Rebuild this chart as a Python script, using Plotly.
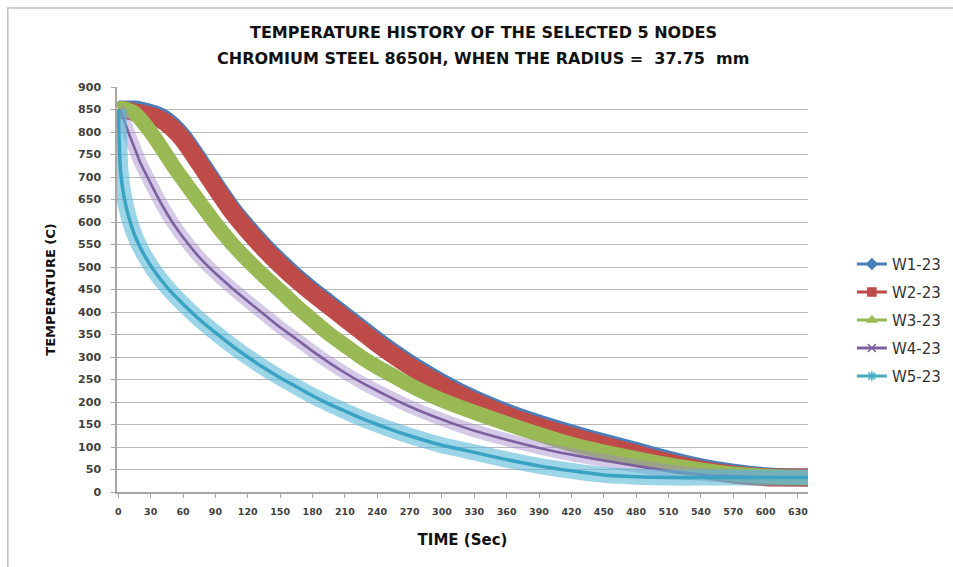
import plotly.graph_objects as go

# Sample times (s) and node temperatures (C) for the five selected nodes
TIME = [0, 2, 5, 10, 15, 20, 30, 40, 50, 60, 75, 90, 105, 120, 135, 150, 165, 180,
        195, 210, 225, 240, 255, 270, 285, 300, 315, 330, 360, 390, 420, 450, 480,
        510, 540, 570, 600, 620, 640]

W1_23 = [850, 850, 850, 850, 850, 848, 842, 833, 815, 789, 737, 683, 631, 587, 547, 511,
         478, 448, 420, 392, 364, 336, 310, 286, 264, 243, 224, 207, 177, 152, 130, 110,
         91, 72, 55, 43, 35, 33, 32]
W2_23 = [850, 849, 848, 847, 844, 842, 836, 827, 809, 783, 731, 677, 625, 581, 541, 505,
         472, 442, 414, 386, 358, 330, 304, 280, 258, 237, 218, 201, 171, 146, 124, 104,
         85, 66, 50, 39, 33, 32, 32]
W3_23 = [850, 852, 852, 848, 842, 830, 800, 765, 728, 694, 645, 597, 553, 515, 480, 447,
         413, 382, 352, 326, 300, 278, 258, 238, 220, 204, 190, 177, 152, 128, 106, 89,
         74, 60, 49, 40, 35, 33, 32]
W4_23 = [850, 845, 828, 795, 765, 734, 686, 640, 600, 566, 522, 486, 454, 424, 395, 366,
         340, 313, 288, 265, 244, 225, 207, 190, 175, 161, 148, 136, 116, 98, 83, 70,
         58, 47, 39, 35, 33, 32, 32]
W5_23 = [850, 715, 660, 608, 572, 545, 503, 470, 442, 418, 384, 354, 326, 300, 276, 254,
         234, 214, 196, 180, 164, 150, 137, 125, 114, 104, 96, 88, 72, 58, 47, 38,
         34, 32, 32, 32, 32, 32, 32]

X_TICKS = list(range(0, 631, 30))
Y_TICKS = list(range(0, 901, 50))

NAMES = ["W1-23", "W2-23", "W3-23", "W4-23", "W5-23"]
COLORS = ["#4A7EBB", "#BE4B48", "#98B954", "#7D60A0", "#46AAC5"]
SYMBOLS = ["diamond", "square", "triangle-up", "x-thin-open", "asterisk-open"]

FONT = "DejaVu Sans"

fig = go.Figure()

spline = dict(shape="spline", smoothing=0.6)

# Dense marker bands of the first three nodes
for vals, col, w in [(W1_23, COLORS[0], 18), (W2_23, COLORS[1], 18), (W3_23, COLORS[2], 15)]:
    fig.add_trace(go.Scatter(x=TIME, y=vals, mode="lines", showlegend=False,
                             line=dict(color=col, width=w, **spline), hoverinfo="skip"))

# Nodes 4 and 5: light marker halo with a solid core line
for vals, halo, core, hw, cw in [
    (W4_23, "rgba(160,135,200,0.45)", COLORS[3], 13, 2.6),
    (W5_23, "rgba(90,185,215,0.6)", "#3AA3C3", 16, 3.5),
]:
    fig.add_trace(go.Scatter(x=TIME, y=vals, mode="lines", showlegend=False,
                             line=dict(color=halo, width=hw, **spline), hoverinfo="skip"))
    fig.add_trace(go.Scatter(x=TIME, y=vals, mode="lines", showlegend=False,
                             line=dict(color=core, width=cw, **spline), hoverinfo="skip"))

# Legend entries
for name, col, sym in zip(NAMES, COLORS, SYMBOLS):
    fig.add_trace(go.Scatter(x=[None], y=[None], mode="lines+markers", name=name,
                             legendgroup=name,
                             line=dict(color=col, width=3),
                             marker=dict(symbol=sym, size=8, color=col,
                                         line=dict(color=col, width=1.5))))

fig.update_layout(
    width=953, height=567,
    margin=dict(l=117, r=145, t=87, b=75, autoexpand=False),
    paper_bgcolor="white", plot_bgcolor="white",
    font=dict(family=FONT, color="#222222"),
    showlegend=True,
    legend=dict(x=1.0635, y=0.603, xanchor="left", yanchor="top",
                font=dict(family=FONT, size=15, color="#333333"),
                tracegroupgap=5.5, bgcolor="rgba(0,0,0,0)"),
    xaxis=dict(range=[-1.2, 639.3], tickmode="array", tickvals=X_TICKS,
               ticktext=[str(v) for v in X_TICKS],
               tickfont=dict(family=FONT, size=9.5, color="#404040", weight="bold"),
               showgrid=False, zeroline=False,
               showline=True, linecolor="#A6A6A6", linewidth=1.5,
               ticks="outside", ticklen=4, tickcolor="#A6A6A6",
               ticklabelstandoff=6,
               title=dict(text="TIME (Sec)", standoff=18,
                          font=dict(family=FONT, size=15, color="#111111", weight="bold"))),
    yaxis=dict(range=[0, 900], tickmode="array", tickvals=Y_TICKS,
               tickfont=dict(family=FONT, size=11, color="#404040", weight="bold"),
               showgrid=True, gridcolor="#B8B8B8", gridwidth=1.4, zeroline=False,
               showline=True, linecolor="#A6A6A6", linewidth=1.5,
               ticks="outside", ticklen=4, tickcolor="#A6A6A6",
               ticklabelstandoff=8,
               title=dict(text="TEMPERATURE (C)", standoff=20,
                          font=dict(family=FONT, size=13, color="#111111", weight="bold"))),
    annotations=[
        dict(text="TEMPERATURE HISTORY OF THE SELECTED 5 NODES",
             xref="paper", yref="paper", x=0.53, y=1.135, xanchor="center", yanchor="middle",
             showarrow=False, font=dict(family=FONT, size=16, color="#111111", weight="bold")),
        dict(text="CHROMIUM STEEL 8650H, WHEN THE RADIUS =\u00a0 37.75\u00a0 mm",
             xref="paper", yref="paper", x=0.53, y=1.071, xanchor="center", yanchor="middle",
             showarrow=False, font=dict(family=FONT, size=16, color="#111111", weight="bold")),
    ],
    shapes=[
        # chart-area frame
        dict(type="rect", xref="paper", yref="paper", x0=-0.158, y0=-0.2, x1=1.3, y1=1.195,
             line=dict(color="#BFBFBF", width=1.5), fillcolor="rgba(0,0,0,0)", layer="below"),
    ],
)

fig.write_html("out.html")
